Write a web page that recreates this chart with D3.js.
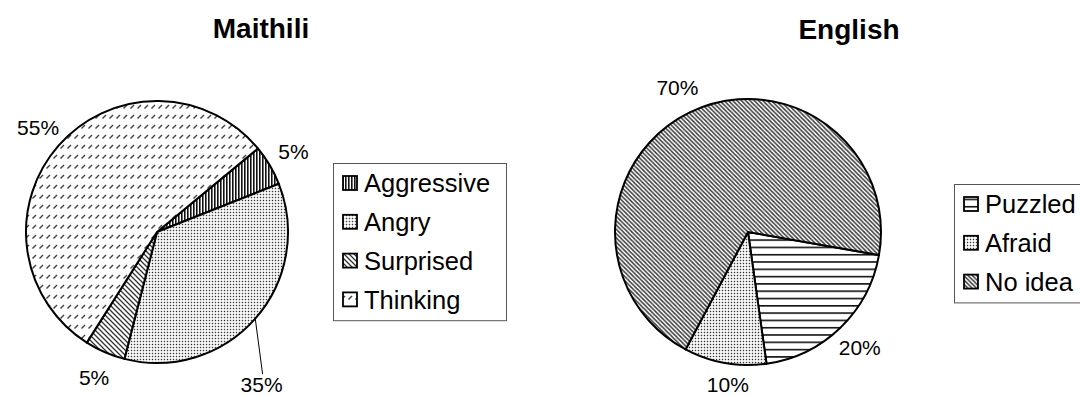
<!DOCTYPE html>
<html>
<head>
<meta charset="utf-8">
<script src="https://cdn.jsdelivr.net/npm/d3@7"></script>
<style>
  html, body { margin: 0; padding: 0; background: #fff; }
  svg { display: block; }
  text { font-family: "Liberation Sans", Arial, sans-serif; fill: #000; }
</style>
</head>
<body>
<svg id="chart" width="1080" height="396"></svg>
<script>
// ---- data ----
const maithiliCategories = ["Aggressive", "Angry", "Surprised", "Thinking"];
const maithiliValues = [5, 35, 5, 55];
const maithiliLabels = ["5%", "35%", "5%", "55%"];

const englishCategories = ["Puzzled", "Afraid", "No idea"];
const englishValues = [20, 10, 70];
const englishLabels = ["20%", "10%", "70%"];

// ---- drawing ----
const svg = d3.select("#chart");
const defs = svg.append("defs");
const deg = Math.PI / 180;

function pattern(id, w, h, build) {
  const p = defs.append("pattern").attr("id", id)
    .attr("patternUnits", "userSpaceOnUse").attr("width", w).attr("height", h);
  p.append("rect").attr("width", w).attr("height", h).attr("fill", "#fff");
  build(p, w, h);
}
// vertical lines (Aggressive)
pattern("pVert", 3, 3, (p, w, h) => p.append("rect").attr("x", 0).attr("width", 1.6).attr("height", h).attr("fill", "#111"));
// dots (Angry)
pattern("pDots", 3, 3, (p) => p.append("rect").attr("x", 0.8).attr("y", 0.8).attr("width", 1.4).attr("height", 1.4).attr("fill", "#3a3a3a"));
// downward diagonal (Surprised)
pattern("pDiag", 5, 5, (p) => p.append("path").attr("d", "M0,0L5,5M-1,4L1,6M4,-1L6,1").attr("stroke", "#333").attr("stroke-width", 1.3));
// dashed upward diagonal (Thinking)
pattern("pDash", 7, 10, (p) => p.append("path").attr("d", "M1.5,6.5L5,3").attr("stroke", "#444").attr("stroke-width", 1.5));
// horizontal lines (Puzzled)
pattern("pHoriz", 8, 7.3, (p) => p.append("rect").attr("y", 0).attr("width", 8).attr("height", 1.6).attr("fill", "#111"));
// dots (Afraid)
pattern("pDots2", 3, 3, (p) => p.append("rect").attr("x", 0.8).attr("y", 0.8).attr("width", 1.4).attr("height", 1.4).attr("fill", "#333"));
// dense downward diagonal (No idea)
pattern("pDiag2", 4.3, 4.3, (p) => p.append("path").attr("d", "M0,0L4.3,4.3M-1,3.3L1,5.3M3.3,-1L5.3,1").attr("stroke", "#3a3a3a").attr("stroke-width", 1.5));

function drawPie(cfg) {
  const g = svg.append("g");
  const pie = d3.pie().sort(null).value(d => d)
    .startAngle(cfg.start * deg).endAngle(cfg.start * deg + 2 * Math.PI);
  const arcs = pie(cfg.values);
  const arc = d3.arc().innerRadius(0).outerRadius(cfg.r);

  g.append("text").attr("x", cfg.titleX).attr("y", cfg.titleY)
    .attr("text-anchor", "middle").attr("font-weight", "bold").attr("font-size", 28)
    .text(cfg.title);

  const pg = g.append("g").attr("transform", `translate(${cfg.cx},${cfg.cy})`);
  pg.selectAll("path.slice").data(arcs).join("path").attr("class", "slice")
    .attr("d", arc)
    .attr("fill", (d, i) => `url(#${cfg.patterns[i]})`)
    .attr("stroke", "#000").attr("stroke-width", 2).attr("stroke-linejoin", "round");

  arcs.forEach((d, i) => {
    const o = cfg.labelAdjust[i];
    const mid = (d.startAngle + d.endAngle) / 2;
    const a = o ? o.angle * deg : mid;
    const k = o ? o.k : 1.21;
    const x = Math.sin(a) * cfg.r * k, y = -Math.cos(a) * cfg.r * k;
    if (o && o.leader) {
      pg.append("line")
        .attr("x1", Math.sin(mid) * cfg.r).attr("y1", -Math.cos(mid) * cfg.r)
        .attr("x2", x + 1).attr("y2", y - 10)
        .attr("stroke", "#000").attr("stroke-width", 1);
    }
    pg.append("text").attr("x", x).attr("y", y).attr("dy", "0.35em")
      .attr("text-anchor", "middle").attr("font-size", 21)
      .text(cfg.labels[i]);
  });

  // legend
  const lg = g.append("g").attr("transform", `translate(${cfg.legX},${cfg.legY})`);
  const rowH = 38.8;
  lg.append("rect").attr("x", 0.5).attr("y", 0.5)
    .attr("width", cfg.legW).attr("height", cfg.categories.length * rowH + 2)
    .attr("fill", "#fff").attr("stroke", "#555").attr("stroke-width", 1);
  cfg.categories.forEach((c, i) => {
    const yc = 20 + i * rowH;
    lg.append("rect").attr("x", 10).attr("y", yc - 7).attr("width", 14).attr("height", 14)
      .attr("fill", `url(#${cfg.patterns[i]})`).attr("stroke", "#000").attr("stroke-width", 1.8);
    lg.append("text").attr("x", 31).attr("y", yc).attr("dy", "0.36em")
      .attr("font-size", 25.5).text(c);
  });
}

drawPie({
  title: "Maithili", titleX: 261, titleY: 38,
  cx: 157, cy: 232, r: 131, start: 50.4,
  values: maithiliValues, labels: maithiliLabels, categories: maithiliCategories,
  patterns: ["pVert", "pDots", "pDiag", "pDash"],
  labelAdjust: [null, { angle: 145.5, k: 1.41, leader: true }, null, null],
  legX: 333, legY: 163, legW: 173
});

drawPie({
  title: "English", titleX: 849, titleY: 39,
  cx: 748, cy: 232, r: 133, start: 100,
  values: englishValues, labels: englishLabels, categories: englishCategories,
  patterns: ["pHoriz", "pDots2", "pDiag2"],
  labelAdjust: [null, { angle: 187.5, k: 1.16 }, null],
  legX: 954, legY: 184, legW: 140
});
</script>
</body>
</html>
